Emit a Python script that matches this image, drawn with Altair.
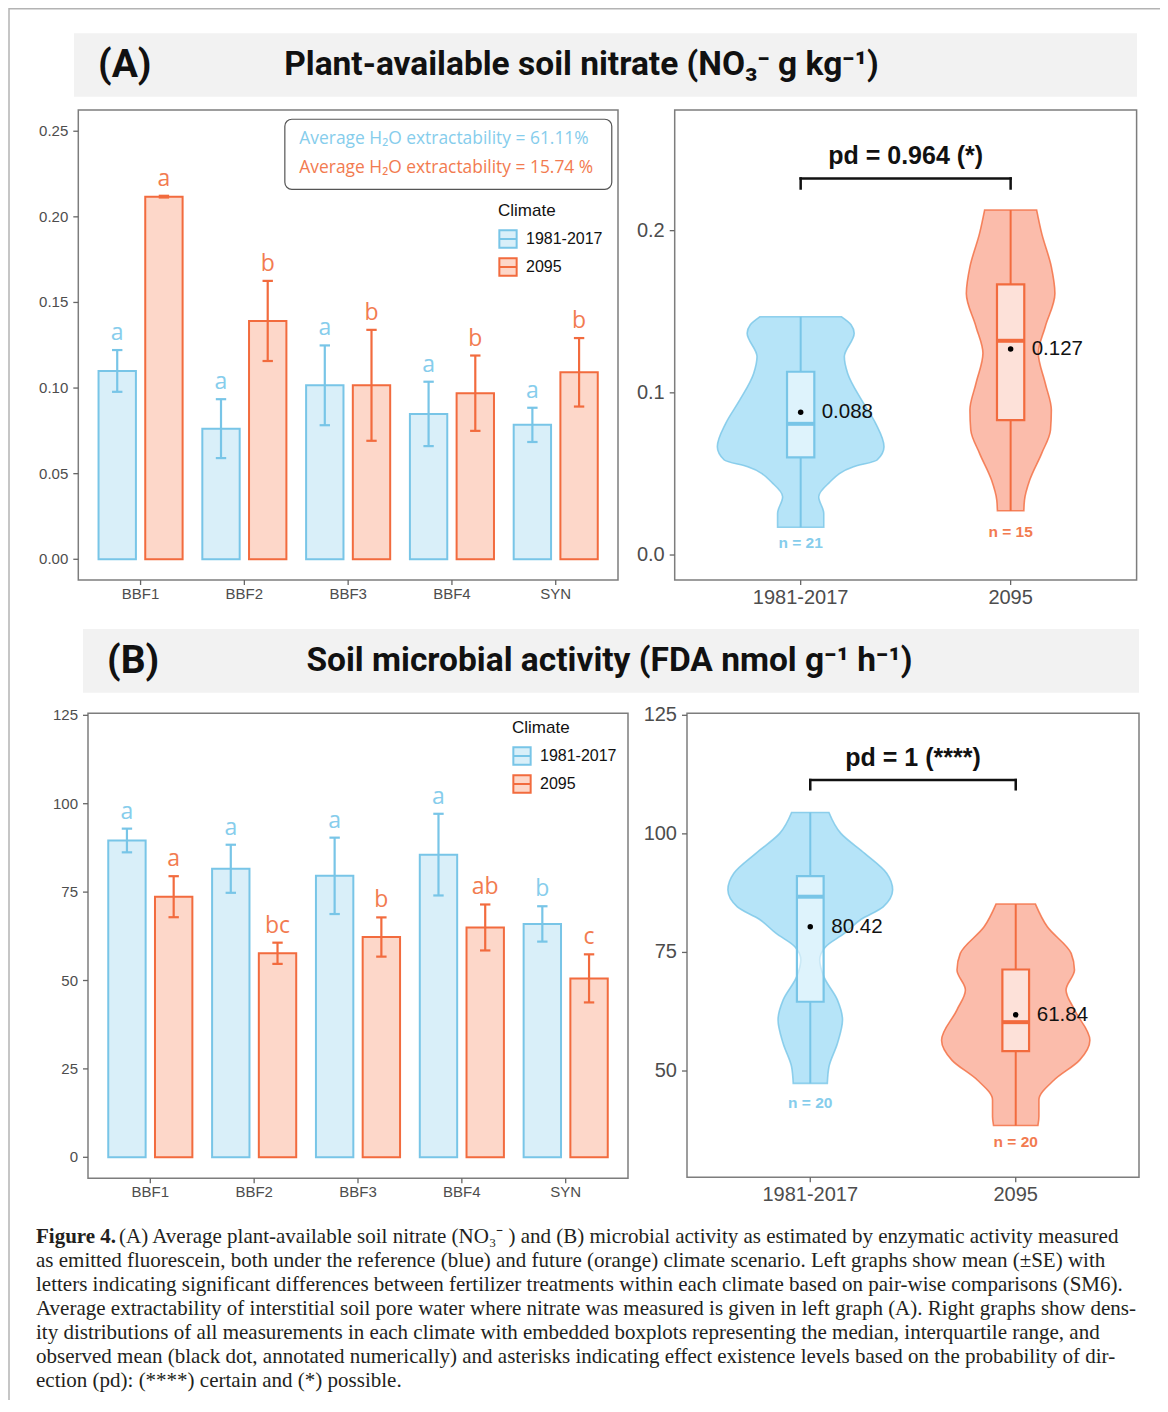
import altair as alt
import pandas as pd

# ------------------------------------------------------------------ data
TREATMENTS = ["BBF1", "BBF2", "BBF3", "BBF4", "SYN"]
CLIMATES = ["1981-2017", "2095"]

# (A) nitrate, mean and SE per treatment
A_MEAN_REF = [0.110, 0.0763, 0.1016, 0.0849, 0.0785]
A_SE_REF = [0.0122, 0.0172, 0.0233, 0.0188, 0.0100]
A_MEAN_FUT = [0.2118, 0.1392, 0.1016, 0.0970, 0.1092]
A_SE_FUT = [0.0005, 0.0234, 0.0324, 0.0220, 0.0200]
A_LET_REF = ["a", "a", "a", "a", "a"]
A_LET_FUT = ["a", "b", "b", "b", "b"]
A_EXTRACT = [61.11, 15.74]
A_BAR_TICKS = [0.0, 0.05, 0.10, 0.15, 0.20, 0.25]
A_VIO_TICKS = [0.0, 0.1, 0.2]

# (B) microbial activity
B_MEAN_REF = [89.6, 81.6, 79.6, 85.6, 66.0]
B_SE_REF = [3.35, 6.8, 10.8, 11.55, 5.0]
B_MEAN_FUT = [73.7, 57.7, 62.3, 65.0, 50.6]
B_SE_FUT = [5.8, 3.0, 5.55, 6.5, 6.8]
B_LET_REF = ["a", "a", "a", "a", "b"]
B_LET_FUT = ["a", "bc", "b", "ab", "c"]
B_BAR_TICKS = [0, 25, 50, 75, 100, 125]
B_VIO_TICKS = [50, 75, 100, 125]

# violin density profiles: value and half width
A_VREF_Y = [0.1469, 0.1420, 0.1367, 0.1223, 0.1120, 0.0956, 0.0812, 0.0668, 0.0586, 0.0544, 0.0442, 0.0360, 0.0257, 0.0171]
A_VREF_W = [0.195, 0.240, 0.255, 0.208, 0.224, 0.290, 0.357, 0.397, 0.364, 0.252, 0.133, 0.086, 0.110, 0.110]
A_VFUT_Y = [0.2127, 0.1983, 0.1777, 0.1613, 0.1408, 0.1244, 0.1059, 0.0894, 0.0771, 0.0627, 0.0462, 0.0339, 0.0273]
A_VFUT_W = [0.124, 0.148, 0.194, 0.211, 0.165, 0.132, 0.165, 0.194, 0.190, 0.148, 0.091, 0.066, 0.063]
A_Q1 = [0.0602, 0.0832]
A_MED = [0.0809, 0.1321]
A_Q3 = [0.1130, 0.1669]
A_MEANS = [0.088, 0.127]
A_N = [21, 15]
A_PD = "pd = 0.964 (*)"

B_VREF_Y = [104.5, 100.1, 95.9, 91.7, 88.2, 84.6, 82.0, 79.0, 76.2, 73.4, 69.9, 65.0, 60.8, 55.8, 50.9, 47.4]
B_VREF_W = [0.091, 0.149, 0.265, 0.372, 0.401, 0.355, 0.248, 0.166, 0.075, 0.046, 0.066, 0.132, 0.157, 0.132, 0.091, 0.083]
B_VFUT_Y = [85.2, 80.4, 74.8, 71.3, 67.1, 62.9, 56.5, 52.3, 48.1, 43.9, 40.4, 38.5]
B_VFUT_W = [0.096, 0.154, 0.270, 0.286, 0.245, 0.286, 0.361, 0.311, 0.187, 0.113, 0.113, 0.108]
B_Q1 = [64.6, 54.2]
B_MED = [86.75, 60.3]
B_Q3 = [91.1, 71.4]
B_MEANS = [80.42, 61.84]
B_N = [20, 20]
B_PD = "pd = 1 (****)"

TITLE_A = "Plant-available soil nitrate (NO\u2083\u207b g kg\u207b\u00b9)"
TITLE_B = "Soil microbial activity (FDA nmol g\u207b\u00b9 h\u207b\u00b9)"
CAPTION_BOLD = "Figure 4."
CAPTION_FIRST = "(A) Average plant-available soil nitrate (NO\u2083\u207b ) and (B) microbial activity as estimated by enzymatic activity measured"
CAPTION_REST = [
    "as emitted fluorescein, both under the reference (blue) and future (orange) climate scenario. Left graphs show mean (\u00b1SE) with",
    "letters indicating significant differences between fertilizer treatments within each climate based on pair-wise comparisons (SM6).",
    "Average extractability of interstitial soil pore water where nitrate was measured is given in left graph (A). Right graphs show dens-",
    "ity distributions of all measurements in each climate with embedded boxplots representing the median, interquartile range, and",
    "observed mean (black dot, annotated numerically) and asterisks indicating effect existence levels based on the probability of dir-",
    "ection (pd): (****) certain and (*) possible.",
]

# ------------------------------------------------------------------ style
W, H = 1152, 1392
BLUE, ORANGE = "#78c5e7", "#f26b3e"
BAR_FILL = ["#d9eff9", "#fdd7c9"]
TXT_COL = ["#86cdec", "#f27b50"]
VIO_FILL = ["#b6e4f8", "#fbbcab"]
FRAME_COL = "#7d7d7d"
TICK_COL = "#666666"
LABEL_COL = "#4d4d4d"
SANS = "Liberation Sans"
OPEN = "Open Sans"
SERIF = "Liberation Serif"
KEY_PATH = "M-1,-1H1V1H-1ZM-1,0H1"
DODGE, BAR_W, CAP_W, BOX_W = 0.225, 0.36, 0.10, 0.13


def frame_and_axes(xs, ys, xdom, ydom, xticks, xlabels, yticks, ylabels, size, xdy, ydx):
    X = lambda f: alt.X(f, scale=xs, axis=None)
    Y = lambda f: alt.Y(f, scale=ys, axis=None)
    fdf = pd.DataFrame({"x0": [xdom[0]], "x1": [xdom[1]], "y0": [ydom[0]], "y1": [ydom[1]]})
    xdf = pd.DataFrame({"v": xticks, "lab": xlabels, "b": [ydom[0]] * len(xticks)})
    ydf = pd.DataFrame({"v": yticks, "lab": ylabels, "l": [xdom[0]] * len(yticks)})
    return [
        alt.Chart(fdf).mark_rect(fillOpacity=0, stroke=FRAME_COL, strokeWidth=1.5).encode(
            x=X("x0:Q"), x2="x1:Q", y=Y("y0:Q"), y2="y1:Q"),
        alt.Chart(xdf).mark_rule(color=TICK_COL, strokeWidth=1.3, y2Offset=5).encode(
            x=X("v:Q"), y=Y("b:Q"), y2="b:Q"),
        alt.Chart(xdf).mark_text(font=SANS, fontSize=size, color=LABEL_COL, align="center",
                                 baseline="middle", dy=xdy).encode(
            x=X("v:Q"), y=Y("b:Q"), text="lab:N"),
        alt.Chart(ydf).mark_rule(color=TICK_COL, strokeWidth=1.3, x2Offset=-5).encode(
            x=X("l:Q"), x2="l:Q", y=Y("v:Q")),
        alt.Chart(ydf).mark_text(font=SANS, fontSize=size, color=LABEL_COL, align="right",
                                 baseline="middle", dx=ydx).encode(
            x=X("l:Q"), y=Y("v:Q"), text="lab:N"),
    ]


def bar_panel(mref, sref, mfut, sfut, lref, lfut, xr, yr, ydom, yticks, yfmt, leg_xy,
              annot=None):
    rows = []
    for i, t in enumerate(TREATMENTS):
        for k, (m, s, l) in enumerate([(mref[i], sref[i], lref[i]), (mfut[i], sfut[i], lfut[i])]):
            pos = i + 1 + (DODGE if k else -DODGE)
            rows.append({"treat": t, "climate": CLIMATES[k], "mean": m, "zero": 0.0,
                         "lo": m - s, "hi": m + s, "letter": l, "pos": pos,
                         "b0": pos - BAR_W / 2, "b1": pos + BAR_W / 2,
                         "c0": pos - CAP_W / 2, "c1": pos + CAP_W / 2})
    df = pd.DataFrame(rows)
    xdom = [0.4, len(TREATMENTS) + 0.6]
    xs = alt.Scale(domain=xdom, range=list(xr), nice=False, zero=False)
    ys = alt.Scale(domain=list(ydom), range=list(yr), nice=False, zero=False)
    fill_s = alt.Scale(domain=CLIMATES, range=BAR_FILL)
    stroke_s = alt.Scale(domain=CLIMATES, range=[BLUE, ORANGE])
    text_s = alt.Scale(domain=CLIMATES, range=TXT_COL)
    leg = alt.Legend(title="Climate", orient="none", legendX=leg_xy[0], legendY=leg_xy[1],
                     direction="vertical", padding=0, titleFont=SANS, titleFontSize=17,
                     titleFontWeight="normal", titleColor="#111111", titlePadding=9,
                     labelFont=SANS, labelFontSize=16, labelColor="#111111", labelOffset=8,
                     symbolType=KEY_PATH, symbolSize=300, symbolStrokeWidth=2, rowPadding=2)
    fill = alt.Fill("climate:N", scale=fill_s, legend=leg)
    stroke = alt.Stroke("climate:N", scale=stroke_s, legend=leg)
    base = alt.Chart(df)
    X = lambda f: alt.X(f, scale=xs, axis=None)
    Y = lambda f: alt.Y(f, scale=ys, axis=None)
    layers = frame_and_axes(xs, ys, xdom, ydom, list(range(1, len(TREATMENTS) + 1)), TREATMENTS,
                            yticks, [format(v, yfmt) for v in yticks], 15, 14, -10)
    layers += [
        base.mark_rect(strokeWidth=2).encode(x=X("b0:Q"), x2="b1:Q", y=Y("zero:Q"), y2="mean:Q",
                                             fill=fill, stroke=stroke),
        base.mark_rule(strokeWidth=2.2).encode(x=X("pos:Q"), y=Y("lo:Q"), y2="hi:Q", stroke=stroke),
        base.mark_rule(strokeWidth=2.2).encode(x=X("c0:Q"), x2="c1:Q", y=Y("hi:Q"), stroke=stroke),
        base.mark_rule(strokeWidth=2.2).encode(x=X("c0:Q"), x2="c1:Q", y=Y("lo:Q"), stroke=stroke),
        base.mark_text(font=OPEN, fontSize=23, baseline="middle", align="center", dy=-17).encode(
            x=X("pos:Q"), y=Y("hi:Q"), text="letter:N",
            color=alt.Color("climate:N", scale=text_s, legend=None)),
    ]
    if annot is not None:
        box, lines = annot
        bdf = pd.DataFrame([box])
        layers.append(alt.Chart(bdf).mark_rect(fillOpacity=0, stroke="#555555", strokeWidth=1.2,
                                               cornerRadius=7).encode(
            x=X("x0:Q"), x2="x1:Q", y=Y("y0:Q"), y2="y1:Q"))
        layers.append(alt.Chart(pd.DataFrame(lines)).mark_text(
            font=OPEN, fontSize=17.4, align="left", baseline="middle").encode(
            x=X("x:Q"), y=Y("y:Q"), text="label:N",
            color=alt.Color("climate:N", scale=text_s, legend=None)))
    return alt.layer(*layers)


def violin_panel(profiles, q1, med, q3, means, ns, n_y, mfmt, xr, yr, ydom, yticks, yfmt,
                 br_y, br_drop, pd_label, pd_y):
    vrows, srows, wrows = [], [], []
    for k, (yv, wv) in enumerate(profiles):
        c = k + 1
        for y, w in zip(yv, wv):
            vrows.append({"climate": CLIMATES[k], "y": y, "lo": c - w, "hi": c + w})
        srows.append({"climate": CLIMATES[k], "c": c, "b0": c - BOX_W / 2, "b1": c + BOX_W / 2,
                      "q1": q1[k], "med": med[k], "q3": q3[k], "mean": means[k],
                      "mlabel": format(means[k], mfmt), "nlabel": f"n = {ns[k]}", "ny": n_y[k]})
        wrows.append({"climate": CLIMATES[k], "c": c, "a": min(yv), "b": q1[k]})
        wrows.append({"climate": CLIMATES[k], "c": c, "a": q3[k], "b": max(yv)})
    vdf, sdf, wdf = pd.DataFrame(vrows), pd.DataFrame(srows), pd.DataFrame(wrows)
    bdf = pd.DataFrame([
        {"x": 1, "x2": 2, "y": br_y, "y2": br_y},
        {"x": 1, "x2": 1, "y": br_y - br_drop, "y2": br_y},
        {"x": 2, "x2": 2, "y": br_y - br_drop, "y2": br_y},
    ])
    xdom = [0.4, 2.6]
    xs = alt.Scale(domain=xdom, range=list(xr), nice=False, zero=False)
    ys = alt.Scale(domain=list(ydom), range=list(yr), nice=False, zero=False)
    vfill_s = alt.Scale(domain=CLIMATES, range=VIO_FILL)
    stroke_s = alt.Scale(domain=CLIMATES, range=[BLUE, ORANGE])
    text_s = alt.Scale(domain=CLIMATES, range=TXT_COL)
    stroke = alt.Stroke("climate:N", scale=stroke_s, legend=None)
    X = lambda f: alt.X(f, scale=xs, axis=None, stack=False)
    Y = lambda f: alt.Y(f, scale=ys, axis=None)
    s = alt.Chart(sdf)
    layers = frame_and_axes(xs, ys, xdom, ydom, [1, 2], CLIMATES, yticks,
                            [format(v, yfmt) for v in yticks], 20, 17.5, -10)
    layers += [
        alt.Chart(vdf).mark_area(orient="horizontal", interpolate="monotone", strokeWidth=1.6,
                                 strokeOpacity=0.8, fillOpacity=1).encode(
            y=Y("y:Q"), x=X("lo:Q"), x2="hi:Q",
            fill=alt.Fill("climate:N", scale=vfill_s, legend=None), stroke=stroke),
        alt.Chart(wdf).mark_rule(strokeWidth=2).encode(x=X("c:Q"), y=Y("a:Q"), y2="b:Q", stroke=stroke),
        s.mark_rect(fill="#ffffff", fillOpacity=0.55, strokeWidth=2.2).encode(
            x=X("b0:Q"), x2="b1:Q", y=Y("q1:Q"), y2="q3:Q", stroke=stroke),
        s.mark_rule(strokeWidth=4).encode(x=X("b0:Q"), x2="b1:Q", y=Y("med:Q"), stroke=stroke),
        s.mark_circle(size=30, color="#000000", opacity=1).encode(x=X("c:Q"), y=Y("mean:Q")),
        s.mark_text(font=SANS, fontSize=20.5, align="left", baseline="middle", dx=21,
                    color="#111111").encode(x=X("c:Q"), y=Y("mean:Q"), text="mlabel:N"),
        s.mark_text(font=SANS, fontSize=15.5, fontWeight="bold", align="center",
                    baseline="middle").encode(
            x=X("c:Q"), y=Y("ny:Q"), text="nlabel:N",
            color=alt.Color("climate:N", scale=text_s, legend=None)),
        alt.Chart(bdf).mark_rule(strokeWidth=2.5, color="#111111", strokeCap="square").encode(
            x=X("x:Q"), x2="x2:Q", y=Y("y:Q"), y2="y2:Q"),
        alt.Chart(pd.DataFrame({"x": [1.5], "y": [pd_y], "t": [pd_label]})).mark_text(
            font=SANS, fontSize=25, fontWeight="bold", align="center", baseline="middle",
            color="#111111").encode(x=X("x:Q"), y=Y("y:Q"), text="t:N"),
    ]
    return alt.layer(*layers)


ONE = pd.DataFrame({"_": [0]})


def title_bar(x0, x1, y0, y1, tag, tag_x, text, text_x, ty):
    rect = alt.Chart(ONE).mark_rect(fill="#f2f2f2").encode(
        x=alt.value(x0), x2=alt.value(x1), y=alt.value(y0), y2=alt.value(y1))
    t1 = alt.Chart(ONE).mark_text(text=tag, font="Roboto", fontWeight="bold", fontSize=39,
                                  align="left", baseline="middle", color="#111111").encode(
        x=alt.value(tag_x), y=alt.value(ty))
    t2 = alt.Chart(ONE).mark_text(text=text, font="Roboto", fontWeight="bold", fontSize=33.5,
                                  align="center", baseline="middle", color="#111111").encode(
        x=alt.value(text_x), y=alt.value(ty))
    return [rect, t1, t2]


# ------------------------------------------------------------------ panels
annot_box = {"x0": 2.39, "x1": 5.54, "y0": 0.2161, "y1": 0.2570}
annot_lines = [
    {"climate": CLIMATES[0], "x": 2.53, "y": 0.2455,
     "label": f"Average H\u2082O extractability = {A_EXTRACT[0]:.2f}%"},
    {"climate": CLIMATES[1], "x": 2.53, "y": 0.2287,
     "label": f"Average H\u2082O extractability = {A_EXTRACT[1]:.2f} %"},
]

pA1 = bar_panel(A_MEAN_REF, A_SE_REF, A_MEAN_FUT, A_SE_FUT, A_LET_REF, A_LET_FUT,
                (70.3, 610), (572, 102), (-0.0121, 0.2624),
                A_BAR_TICKS, ".2f", (490, 195), annot=(annot_box, annot_lines))
pA2 = violin_panel([(A_VREF_Y, A_VREF_W), (A_VFUT_Y, A_VFUT_W)], A_Q1, A_MED, A_Q3, A_MEANS,
                   A_N, [0.0077, 0.0140], ".3f", (666.7, 1128.6), (572, 102),
                   (-0.0154, 0.2744), A_VIO_TICKS, ".1f", 0.2322, 0.0062, A_PD, 0.246)
pB1 = bar_panel(B_MEAN_REF, B_SE_REF, B_MEAN_FUT, B_SE_FUT, B_LET_REF, B_LET_FUT,
                (80, 620), (1170.3, 705.3), (-5.94, 125.57),
                B_BAR_TICKS, "d", (504, 712))
pB2 = violin_panel([(B_VREF_Y, B_VREF_W), (B_VFUT_Y, B_VFUT_W)], B_Q1, B_MED, B_Q3, B_MEANS,
                   B_N, [43.2, 35.1], ".2f", (679, 1131), (1169.3, 705.3),
                   (27.59, 125.42), B_VIO_TICKS, "d", 111.35, 1.95, B_PD, 116.1)

# ------------------------------------------------------------------ decorations
outer = [
    alt.Chart(ONE).mark_rule(color="#b3b3b3", strokeWidth=1.5).encode(
        x=alt.value(1), y=alt.value(0), y2=alt.value(H)),
    alt.Chart(ONE).mark_rule(color="#b3b3b3", strokeWidth=1.5).encode(
        x=alt.value(1), x2=alt.value(W), y=alt.value(0.75)),
]
titles = (title_bar(66, 1129, 25.3, 88.7, "(A)", 90, TITLE_A, 573.5, 57)
          + title_bar(75, 1131, 621, 684.7, "(B)", 99, TITLE_B, 601.5, 653))

cap_df = pd.DataFrame({"i": list(range(1, len(CAPTION_REST) + 1)), "t": CAPTION_REST})
caption = [
    alt.Chart(ONE).mark_text(text=CAPTION_BOLD, font=SERIF, fontWeight="bold", fontSize=21,
                             align="left", baseline="middle", color="#231f20").encode(
        x=alt.value(28), y=alt.value(1229)),
    alt.Chart(ONE).mark_text(text=CAPTION_FIRST, font=SERIF, fontSize=21, align="left",
                             baseline="middle", color="#231f20").encode(
        x=alt.value(111), y=alt.value(1229)),
    alt.Chart(cap_df).mark_text(font=SERIF, fontSize=21, align="left", baseline="middle",
                                color="#231f20").encode(
        x=alt.value(28),
        y=alt.Y("i:Q", scale=alt.Scale(domain=[1, 6], range=[1253, 1373]), axis=None),
        text="t:N"),
]

chart = alt.layer(*outer, *titles, pA1, pA2, pB1, pB2, *caption).resolve_scale(
    x="independent", y="independent", fill="independent", stroke="independent",
    color="independent",
).properties(
    width=W, height=H, padding=0, autosize=alt.AutoSizeParams(type="none"),
    background="#ffffff",
).configure_view(strokeWidth=0)

chart.save("out.html", embed_options={"renderer": "svg", "actions": False})
